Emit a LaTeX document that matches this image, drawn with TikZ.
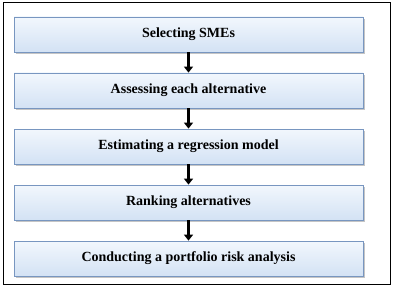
\documentclass[tikz,border=0pt]{standalone}
\usepackage{fontspec}
\setmainfont{Liberation Serif}
\usetikzlibrary{arrows.meta,shadows}
\definecolor{boxtop}{HTML}{F2F7FD}
\definecolor{boxbot}{HTML}{D3E2F4}
\definecolor{boxline}{HTML}{7896C0}
\tikzset{
  stepbox/.style={rectangle, minimum width=349pt, minimum height=35pt, draw=boxline, line width=0.8pt,
    top color=boxtop, bottom color=boxbot, font=\bfseries\fontsize{14}{16}\selectfont,
    drop shadow={shadow xshift=2pt, shadow yshift=-2pt, fill=black!45}},
  flow/.style={line width=2.6pt, -{Triangle[width=9pt,length=6pt]}}
}
\begin{document}
\begin{tikzpicture}[x=1pt,y=1pt]
\useasboundingbox (0,0) rectangle (393,287);
\fill[white] (0,0) rectangle (393,287);
\draw[line width=1pt] (3,3) rectangle (390,284);
\node[stepbox] (s1) at (188.5,252.5) {Selecting SMEs};
\node[stepbox] (s2) at (188.5,196.5) {Assessing each alternative};
\node[stepbox] (s3) at (188.5,140.5) {Estimating a regression model};
\node[stepbox] (s4) at (188.5,84.5) {Ranking alternatives};
\node[stepbox] (s5) at (188.5,28.5) {Conducting a portfolio risk analysis};
\draw[flow] (s1.south) -- (s2.north);
\draw[flow] (s2.south) -- (s3.north);
\draw[flow] (s3.south) -- (s4.north);
\draw[flow] (s4.south) -- (s5.north);
\end{tikzpicture}
\end{document}
